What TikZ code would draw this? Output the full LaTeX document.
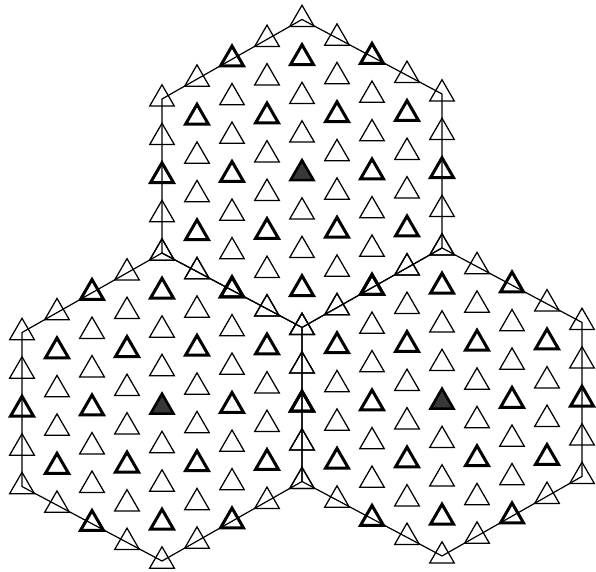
\documentclass[tikz,border=0pt]{standalone}
\usetikzlibrary{shapes.geometric}
\tikzset{
  tri/.style={regular polygon, regular polygon sides=3, minimum size=28.5pt,
    inner sep=0pt, outer sep=0pt, draw=black, line width=1.25pt},
  boldtri/.style={tri, line width=3pt, minimum size=26.5pt},
  centertri/.style={tri, line width=2.6pt, minimum size=26.5pt, fill=black!78},
  hexline/.style={draw=black, line width=1.2pt, line join=miter}
}
\begin{document}
\begin{tikzpicture}
\useasboundingbox (0pt,0pt) rectangle (596pt,571pt);
\fill[white] (0pt,0pt) rectangle (596pt,571pt);
\foreach \h/\ci/\ck in {1/0/0, 2/4/-8, 3/8/-4} {
  \foreach \i in {-4,...,4} {
    \foreach \k in {-4,...,4} {
      \pgfmathtruncatemacro\s{abs(\i+\k)}
      \ifnum\s<5
        \pgfmathtruncatemacro\r{mod(\i-\k+12,3)}
        \pgfmathsetmacro\px{162+35*(\ci+\i)}
        \pgfmathsetmacro\py{164-38.5*(\ck+\k)-18.62*(\ci+\i)}
        \pgfmathtruncatemacro\ii{\i+4}
        \pgfmathtruncatemacro\kk{\k+4}
        \ifnum\r=0 \def\st{boldtri}\else\def\st{tri}\fi
        \ifnum\i=0 \ifnum\k=0 \def\st{centertri}\fi\fi
        \node[\st] (p\h-\ii-\kk) at (\px pt,\py pt) {};
      \fi
    }
  }
}
\foreach \h in {1,2,3} {
  \draw[hexline] (p\h-4-0.center) -- (p\h-8-0.center) -- (p\h-8-4.center)
    -- (p\h-4-8.center) -- (p\h-0-8.center) -- (p\h-0-4.center) -- cycle;
}
\end{tikzpicture}
\end{document}
